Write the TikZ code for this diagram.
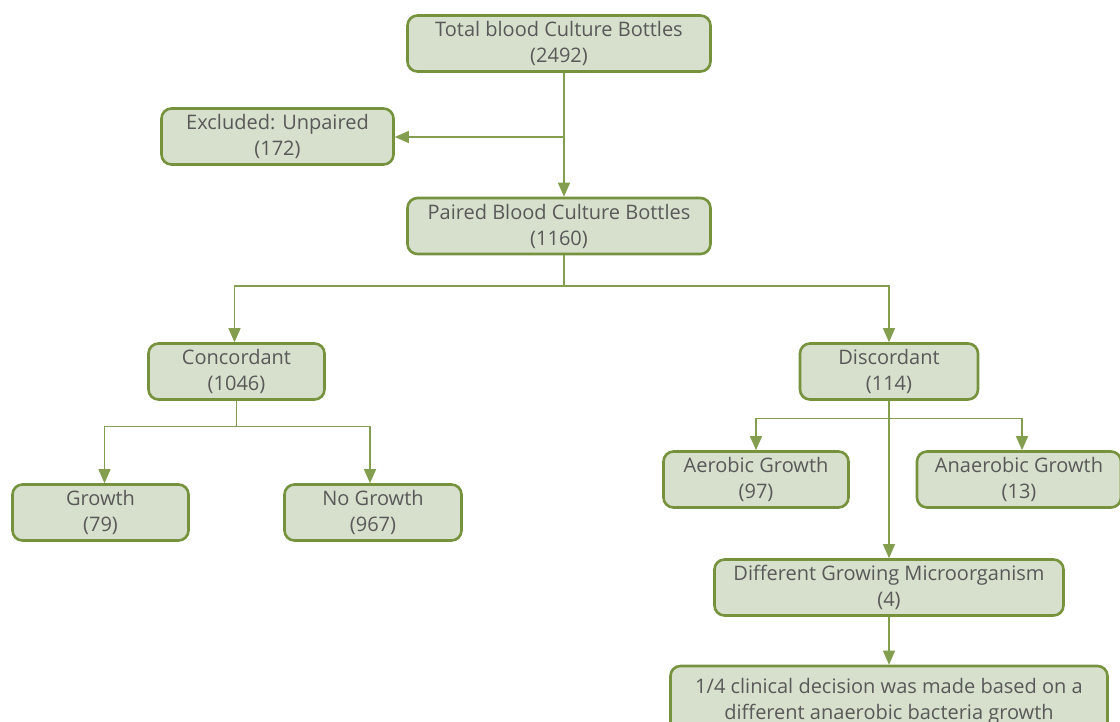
\documentclass[tikz,border=0pt]{standalone}
\usepackage{fontspec}
\setmainfont{Open Sans}
\usetikzlibrary{arrows.meta, calc}

\definecolor{boxline}{RGB}{118,146,60}
\definecolor{boxfill}{RGB}{214,224,204}
\definecolor{linkcol}{RGB}{130,158,78}
\definecolor{txtcol}{RGB}{89,89,89}

\tikzset{
  box/.style={draw=boxline, fill=boxfill, line width=2.6pt, rounded corners=10pt,
    align=center, inner sep=0pt, text=txtcol, minimum height=56pt,
    font=\fontsize{20}{26}\selectfont},
  link/.style={draw=linkcol, line width=1.2pt},
  arr/.style={link, -{Triangle[width=12pt,length=14pt]}}
}

\begin{document}
\begin{tikzpicture}[x=1pt, y=-1pt]
\clip (0,0) rectangle (1120,722);
\fill[white] (0,0) rectangle (1120,722);
% Top of the tree
\node[box, minimum width=303pt] (total) at (559,43.5)
  {Total blood Culture Bottles\\(2492)};
\node[box, minimum width=232pt] (excl) at (277.5,136.5)
  {Excluded: Unpaired\\(172)};
\node[box, minimum width=303pt] (paired) at (559,226)
  {Paired Blood Culture Bottles\\(1160)};
% Second level
\node[box, minimum width=176pt] (conc) at (236.5,371.5) {Concordant\\(1046)};
\node[box, minimum width=178pt] (disc) at (889,371.5) {Discordant\\(114)};
% Under concordant
\node[box, minimum width=176pt] (grow) at (100.5,512.5) {Growth\\(79)};
\node[box, minimum width=177pt] (nogrow) at (373,512.5) {No Growth\\(967)};
% Under discordant
\node[box, minimum width=185pt] (aero) at (756,479.5) {Aerobic Growth\\(97)};
\node[box, minimum width=204pt] (anaero) at (1019,479.5) {Anaerobic Growth\\(13)};
\node[box, minimum width=349pt] (diff) at (889,587.5)
  {Different Growing Microorganism\\(4)};
\node[box, minimum width=437pt, minimum height=70pt] (dec) at (889,701)
  {1/4 clinical decision was made based on a\\different anaerobic bacteria growth};
% Junction points of the connectors
\coordinate (j1) at (564,137);
\coordinate (s1) at (564,286);
\coordinate (s2) at ($(conc.south)+(0,26)$);
\coordinate (s3) at ($(disc.south)+(0,18)$);
% Connectors
\draw[arr] ([xshift=5pt]total.south) -- ([xshift=5pt]paired.north);
\draw[arr] (j1) -- (j1 -| excl.east);
\draw[link] ([xshift=5pt]paired.south) -- (s1);
\draw[arr] (s1) -| ([xshift=-2pt]conc.north);
\draw[arr] (s1) -| (disc.north);
\draw[link] (conc.south) -- (s2);
\draw[arr] (s2) -| ([xshift=4pt]grow.north);
\draw[arr] (s2) -| ([xshift=-3pt]nogrow.north);
\draw[arr] (disc.south) -- (diff.north);
\draw[arr] (s3) -| (aero.north);
\draw[arr] (s3) -| ([xshift=3pt]anaero.north);
\draw[arr] (diff.south) -- (dec.north);
\end{tikzpicture}
\end{document}
